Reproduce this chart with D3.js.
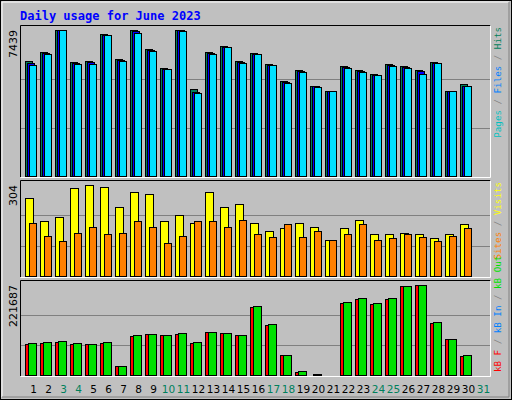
<!DOCTYPE html><html><head><meta charset="utf-8">
<script src="https://cdn.jsdelivr.net/npm/d3@7"></script>
<style>body{margin:0;background:#fff}</style></head><body>
<svg id="c" width="512" height="400"></svg>
<script>
const days=d3.range(1,32);
const weekend=[3,4,10,11,17,18,24,25,31];
const hits=[5820,6276,7439,5770,5820,7187,5921,7389,6427,5466,7439,4403,6276,6579,5820,6225,5668,4858,5365,4605,4352,5567,5365,5162,5668,5567,5365,5770,4352,4656];
const files=[5719,6225,7389,5719,5770,7136,5871,7338,6377,5415,7389,4251,6225,6529,5770,6174,5618,4757,5314,4555,4302,5517,5314,5112,5618,5517,5314,5719,4302,4605];
const pages=[5618,6174,7389,5668,5668,7136,5820,7237,6326,5415,7338,4201,6174,6529,5719,6174,5618,4707,5263,4504,4302,5466,5263,5112,5567,5466,5162,5719,4302,4555];
const visits=[261,185,198,294,304,297,231,278,271,182,202,178,278,231,241,178,152,159,178,162,122,159,188,139,142,145,139,126,142,172];
const sites=[178,135,116,145,162,139,145,185,165,112,135,182,185,162,188,139,132,175,132,152,122,142,172,119,126,142,129,116,135,159];
const kbF=[77670,80100,82520,77670,77670,80100,24270,97090,101940,99510,101940,80100,106800,104370,99510,167470,123780,50970,9710,2430,2430,177180,186890,174750,186890,218440,221687,128640,89800,48540];
const kbOut=[80100,82520,84950,80100,77670,82520,24270,99510,101940,99510,104370,82520,106800,104370,99510,169900,126210,50970,12140,4850,2430,179610,189320,177180,189320,218440,221687,131070,89800,50970];

const svg=d3.select("#c");
svg.append("rect").attr("x",0.5).attr("y",0.5).attr("width",511).attr("height",399).attr("fill","#c0c0c0").attr("stroke","#000");
svg.append("path").attr("d","M2,397V2H509").attr("stroke","#fff").attr("fill","none");
svg.append("path").attr("d","M2,397H509V2").attr("stroke","#808080").attr("fill","none");
svg.append("text").attr("x",20).attr("y",20).attr("fill","#0000ff").attr("font-family","DejaVu Sans Mono").attr("font-weight","bold").attr("font-size",12).text("Daily usage for June 2023");

const x=d3.scaleLinear().domain([1,31]).range([25.5,475.5]);
const panels=[
 {top:25,bot:177,max:7439,series:[[hits,"#00805c",0,7],[files,"#0000ff",2,7],[pages,"#00e0ff",4,7]],anchorTop:true,
  labels:[["Pages","#00c0c0"],[" / ","#808080"],["Files","#0080ff"],[" / ","#808080"],["Hits","#00805c"]]},
 {top:180,bot:277,max:304,series:[[visits,"#ffff00",0,8],[sites,"#ff8000",4,7]],anchorTop:true,
  labels:[["Sites","#ff8000"],[" / ","#808080"],["Visits","#ffff00"]]},
 {top:280,bot:376,max:221687,series:[[kbF,"#ff0000",0,7],[kbOut,"#00e000",3,8]],anchorTop:false,
  labels:[["kB F","#ff0000"],[" / ","#808080"],["kB In","#0080ff"],[" / ","#808080"],["kB Out","#00e000"]]}
];
panels.forEach(p=>{
  const base=p.bot-0.5;
  const y=d3.scaleLinear().domain([0,p.max]).range([base,p.top+4.5]);
  const h=base-y(p.max);
  [1,2].forEach(k=>svg.append("line").attr("x1",20).attr("x2",490).attr("y1",Math.round(base-h*k/3)+0.5).attr("y2",Math.round(base-h*k/3)+0.5).attr("stroke","#808080"));
  svg.append("path").attr("d",`M20.5,${p.bot}V${p.top+0.5}H490.5`).attr("stroke","#000").attr("fill","none");
  svg.append("path").attr("d",`M20.5,${p.bot+0.5}H490.5V${p.top+0.5}`).attr("stroke","#fff").attr("fill","none");
  p.series.forEach(([arr,col,off,w])=>{
    svg.append("g").selectAll("rect").data(arr).join("rect")
      .attr("x",(d,i)=>x(i+1)+off).attr("width",w)
      .attr("y",d=>Math.round(y(d))+0.5).attr("height",d=>Math.max(0,base-Math.round(y(d))-0.5))
      .attr("fill",col).attr("stroke","#000");
  });
  svg.append("text").attr("transform",`translate(17,${p.top+5}) rotate(-90)`).attr("text-anchor","end")
    .attr("font-family","DejaVu Sans").attr("font-size",11).attr("fill","#000").text(d3.format("d")(p.max));
  const t=svg.append("text")
    .attr("transform",p.anchorTop?`translate(501,${p.top+2}) rotate(-90)`:`translate(501,${p.bot-4}) rotate(-90)`)
    .attr("text-anchor",p.anchorTop?"end":"start")
    .attr("font-family","DejaVu Sans Mono").attr("font-size",9.2);
  p.labels.forEach(([s,c])=>t.append("tspan").attr("fill",c).attr("xml:space","preserve").text(s));
});
svg.append("g").selectAll("text").data(days).join("text")
  .attr("x",d=>x(d)+8).attr("y",393).attr("text-anchor","middle")
  .attr("font-family","DejaVu Sans").attr("font-size",10.5)
  .attr("fill",d=>weekend.includes(d)?"#00805c":"#000").text(d=>d);
</script></body></html>
